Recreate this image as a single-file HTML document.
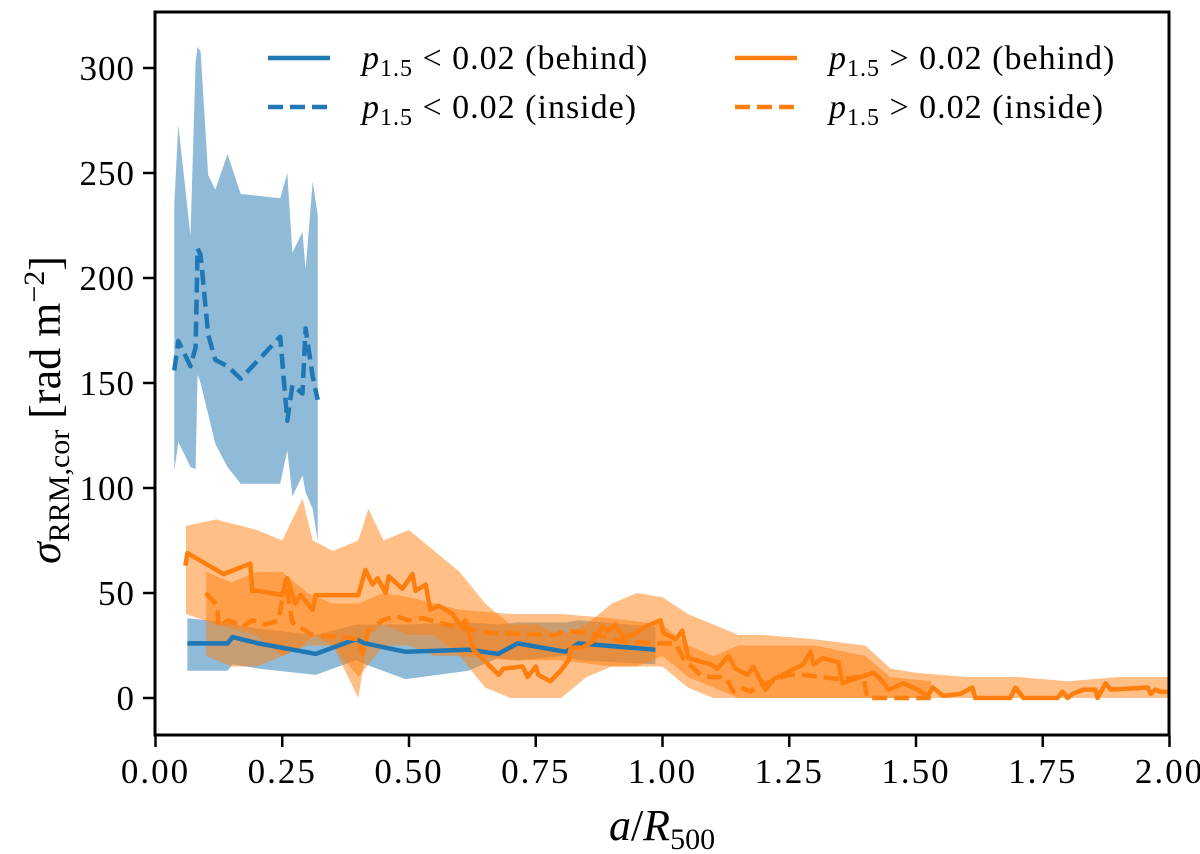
<!DOCTYPE html>
<html><head><meta charset="utf-8"><style>
html,body{margin:0;padding:0;background:#fff;}
svg{display:block;font-family:"Liberation Serif","DejaVu Serif",serif;}
</style></head><body>
<svg id="chart" width="1200" height="854" viewBox="0 0 1200 854">
<g id="bands"></g><g id="lines"></g><g id="axes"></g><g id="legend"></g>
</svg>
<script>
// ---- data ----
const blueInA  = [0.037,0.045,0.069,0.079,0.083,0.089,0.104,0.118,0.142,0.168,0.246,0.260,0.270,0.290,0.296,0.310,0.320];
const blueInV  = [156,170,158,167,214,211,173,161,158,152,172,132,149,145,176,153,142];
const blueInLo = [108,122,110,109,154,150,135,121,110,102,102,118,96,106,98,90,75];
const blueInHi = [235,273,220,303,310,308,249,242,259,240,238,250,212,222,204,246,230];

const blueBeA  = [0.063,0.142,0.152,0.203,0.316,0.395,0.414,0.493,0.617,0.676,0.714,0.809,0.834,0.986];
const blueBeV  = [26,26,29,26,21,28,26,22,23,21,26,22,26,23];
const blueBeLo = [13,13,16,14,11,18,16,9,13,19,18,20,18,16];
const blueBeHi = [38,36,35,33,30,35,35,35,36,35,36,36,37,34];

const orBeA = [0.059,0.063,0.134,0.187,0.191,0.203,0.250,0.260,0.276,0.286,0.310,0.316,0.355,0.400,0.414,0.428,0.438,0.454,0.460,0.487,0.507,0.513,0.533,0.542,0.558,0.586,0.602,0.611,0.627,0.677,0.686,0.724,0.734,0.750,0.755,0.779,0.799,0.815,0.819,0.842,0.862,0.882,0.893,0.907,0.921,0.941,0.966,0.996,1.002,1.026,1.039,1.051,1.095,1.108,1.130,1.144,1.168,1.179,1.203,1.219,1.278,1.292,1.298,1.316,1.347,1.355,1.391,1.416,1.430,1.446,1.475,1.503,1.523,1.533,1.554,1.588,1.611,1.617,1.686,1.696,1.712,1.779,1.789,1.799,1.809,1.830,1.854,1.858,1.874,1.884,1.957,1.963,1.972,1.982,2.0];
const orBeV = [63,69,59,64,51,51,49,57,45,49,42,49,49,49,61,54,57,50,58,52,59,51,54,42,44,40,34,37,23,11,14,15,10,15,11,8,13,18,24,24,27,34,32,35,29,30,34,37,31,28,32,19,16,14,20,14,11,15,4,9,16,22,16,19,17,7,10,12,9,4,7,4,1,5,1,2,5,0,0,5,0,0,3,0,2,4,4,0,7,4,5,2,4,3,3];
const orBeBandA = [0.06,0.12,0.2,0.25,0.29,0.31,0.35,0.4,0.42,0.45,0.5,0.55,0.6,0.65,0.7,0.75,0.8,0.85,0.9,0.95,1.0,1.05,1.1,1.15,1.2,1.3,1.4,1.45,1.5,1.6,1.7,1.8,1.9,2.0];
const orBeLo = [40,35,30,20,25,30,25,0,30,35,30,30,20,5,0,0,0,10,15,15,20,10,5,0,0,0,0,0,0,0,0,0,0,0];
const orBeHi = [82,85,80,75,95,75,70,75,90,75,80,70,60,45,35,35,30,35,45,50,48,40,35,30,30,28,25,14,12,10,10,8,10,10];

const orInA = [0.099,0.122,0.124,0.144,0.172,0.191,0.217,0.243,0.256,0.270,0.282,0.310,0.369,0.400,0.408,0.420,0.448,0.473,0.499,0.527,0.558,0.592,0.657,0.789,0.809,0.854,0.921,0.986,1.026,1.041,1.075,1.095,1.124,1.140,1.154,1.174,1.187,1.219,1.247,1.278,1.312,1.351,1.385,1.396,1.404,1.430,1.475,1.529];
const orInV = [50,44,34,37,34,37,35,37,56,36,34,30,29,28,21,32,37,39,37,38,36,34,31,30,32,31,27,26,26,19,11,10,10,3,5,3,6,8,11,11,10,9,10,10,0,0,0,0];
const orInBandA = [0.1,0.15,0.2,0.25,0.3,0.35,0.4,0.45,0.5,0.55,0.6,0.7,0.8,0.9,1.0,1.05,1.1,1.15,1.2,1.3,1.4,1.45,1.53];
const orInLo = [20,15,15,20,25,25,10,25,25,20,20,18,18,15,15,5,0,0,0,0,0,0,0];
const orInHi = [60,55,60,60,50,45,45,50,48,45,42,40,40,38,35,25,20,25,25,25,20,10,8];

const xTicks = [0,0.25,0.5,0.75,1.0,1.25,1.5,1.75,2.0];
const xTickLabels = ["0.00","0.25","0.50","0.75","1.00","1.25","1.50","1.75","2.00"];
const yTicks = [0,50,100,150,200,250,300];
const yTickLabels = ["0","50","100","150","200","250","300"];

// ---- axes ----
const X0=155.5, XS=507, Y0=698, YS=2.1;
const L=155, R=1169, T=12, B=735;
function sx(a){return X0+a*XS;}
function sy(v){return Y0-v*YS;}
const NS="http://www.w3.org/2000/svg";
function mk(tag,attrs,parent){const e=document.createElementNS(NS,tag);for(const k in attrs)e.setAttribute(k,attrs[k]);parent.appendChild(e);return e;}
const bands=document.getElementById('bands'), lines=document.getElementById('lines'), axes=document.getElementById('axes');

function band(A,lo,hi,color,name){
  let d='M'+A.map((a,i)=>sx(a).toFixed(1)+','+sy(hi[i]).toFixed(1)).join('L');
  for(let i=A.length-1;i>=0;i--) d+='L'+sx(A[i]).toFixed(1)+','+sy(lo[i]).toFixed(1);
  const p=mk('path',{d:d+'Z',fill:color,'fill-opacity':0.5,stroke:'none'},bands);
  
  
}
function line(A,V,color,dash,name){
  const d='M'+A.map((a,i)=>sx(a).toFixed(1)+','+sy(V[i]).toFixed(1)).join('L');
  const attrs={d:d,fill:'none',stroke:color,'stroke-width':4.5,'stroke-linejoin':'round'};
  if(dash) attrs['stroke-dasharray']='15,7';
  const p=mk('path',attrs,lines);
  
  
}
const BLUE='#1f77b4', ORANGE='#ff7f0e';
band(blueInA,blueInLo,blueInHi,BLUE,'band-low-p-inside');
band(blueBeA,blueBeLo,blueBeHi,BLUE,'band-low-p-behind');
band(orBeBandA,orBeLo,orBeHi,ORANGE,'band-high-p-behind');
band(orInBandA,orInLo,orInHi,ORANGE,'band-high-p-inside');
line(blueBeA,blueBeV,BLUE,false,'line-low-p-behind');
line(blueInA,blueInV,BLUE,true,'line-low-p-inside');
line(orBeA,orBeV,ORANGE,false,'line-high-p-behind');
line(orInA,orInV,ORANGE,true,'line-high-p-inside');

const frame=mk('rect',{x:L,y:T,width:R-L,height:B-T,fill:'none',stroke:'#000','stroke-width':3},axes);


xTicks.forEach((t,i)=>{
  const tk=mk('line',{x1:sx(t),x2:sx(t),y1:B,y2:B+12,stroke:'#000','stroke-width':2.5},axes);
  
  
  const tx=mk('text',{x:sx(t),y:B+48,'text-anchor':'middle','font-size':35,'letter-spacing':2},axes);
  tx.textContent=xTickLabels[i];
  
  
});
yTicks.forEach((t,i)=>{
  const tk=mk('line',{x1:L-12,x2:L,y1:sy(t),y2:sy(t),stroke:'#000','stroke-width':2.5},axes);
  
  
  const tx=mk('text',{x:L-20,y:sy(t)+12,'text-anchor':'end','font-size':35,'letter-spacing':1},axes);
  tx.textContent=yTickLabels[i];
  
  
});
</script>
<svg style="position:absolute;left:0;top:0" width="1200" height="854">
  <text x="662" y="840" text-anchor="middle" font-size="44" font-family="Liberation Serif, serif"><tspan font-style="italic">a</tspan>/<tspan font-style="italic">R</tspan><tspan font-size="30" dy="9">500</tspan></text>
  <text transform="translate(60,410) rotate(-90)" text-anchor="middle" font-size="44" font-family="Liberation Serif, serif"><tspan font-style="italic">σ</tspan><tspan font-size="30" dy="9">RRM,cor</tspan><tspan dy="-9"> [rad m</tspan><tspan font-size="30" dy="-16">−2</tspan><tspan dy="16">]</tspan></text>
  <g font-family="Liberation Serif, serif" font-size="34" letter-spacing="1">
    <line x1="268" x2="330" y1="58" y2="58" stroke="#1f77b4" stroke-width="4.5"/>
    <text x="362" y="69"><tspan font-style="italic">p</tspan><tspan font-size="24" dy="7">1.5</tspan><tspan dy="-7"> &lt; 0.02 (behind)</tspan></text>
    <line x1="268" x2="330" y1="107" y2="107" stroke="#1f77b4" stroke-width="4.5" stroke-dasharray="15,7"/>
    <text x="362" y="118"><tspan font-style="italic">p</tspan><tspan font-size="24" dy="7">1.5</tspan><tspan dy="-7"> &lt; 0.02 (inside)</tspan></text>
    <line x1="735" x2="797" y1="58" y2="58" stroke="#ff7f0e" stroke-width="4.5"/>
    <text x="829" y="69"><tspan font-style="italic">p</tspan><tspan font-size="24" dy="7">1.5</tspan><tspan dy="-7"> &gt; 0.02 (behind)</tspan></text>
    <line x1="735" x2="797" y1="107" y2="107" stroke="#ff7f0e" stroke-width="4.5" stroke-dasharray="15,7"/>
    <text x="829" y="118"><tspan font-style="italic">p</tspan><tspan font-size="24" dy="7">1.5</tspan><tspan dy="-7"> &gt; 0.02 (inside)</tspan></text>
  </g>
</svg>
</body></html>
